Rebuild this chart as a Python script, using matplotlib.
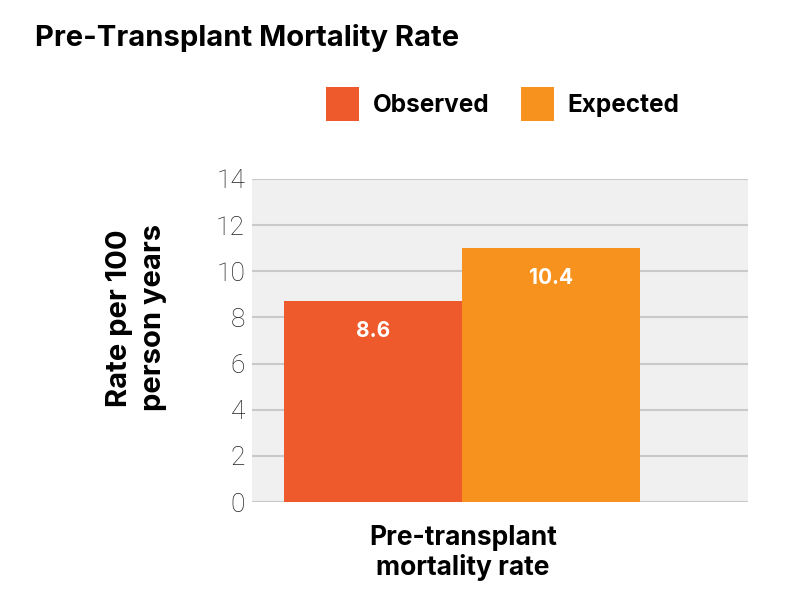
#!/usr/bin/env python3
"""Pre-transplant mortality rate: observed vs expected bar chart."""

import matplotlib.pyplot as plt
from matplotlib.patches import Patch

series_names = ["Observed", "Expected"]
bar_heights = [8.7, 11.0]          # bar tops as drawn in the picture
value_labels = ["8.6", "10.4"]     # printed values
category_label = "Pre-transplant\nmortality rate"
y_ticks = [0, 2, 4, 6, 8, 10, 12, 14]

colors = ["#EE5A2C", "#F7921E"]
bg_color = "#F0F0F1"
grid_color = "#C9C9CC"

BOLD = ["Inter", "DejaVu Sans"]
plt.rcParams["font.family"] = ["Roboto", "DejaVu Sans"]

fig = plt.figure(figsize=(8, 6), dpi=100)
ax = fig.add_axes([0.315, 0.1633, 0.62, 0.5384])
ax.set_facecolor(bg_color)

x = list(range(len(series_names)))
bars = ax.bar(x, bar_heights, width=1.0, color=colors, zorder=3)

for b, lab in zip(bars, value_labels):
    ax.annotate(lab, (b.get_x() + b.get_width() / 2, b.get_height()),
                xytext=(0, -14), textcoords="offset points",
                ha="center", va="top", color="white", family=BOLD,
                fontsize=15, fontweight="bold", zorder=4)

ax.set_xlim(-0.68, 2.11)
ax.set_ylim(0, 14)
ax.set_yticks(y_ticks)
ax.set_yticklabels([str(t) for t in y_ticks], fontsize=19,
                   fontweight="light", color="#222222")
ax.tick_params(axis="y", length=0, pad=5)
ax.set_xticks([])
ax.yaxis.grid(True, color=grid_color, linewidth=1.5, zorder=0)
for s in ax.spines.values():
    s.set_visible(False)

ax.set_xlabel(category_label, fontsize=19, fontweight="bold",
              family=BOLD, linespacing=1.15)
ax.xaxis.set_label_coords(0.425, -0.072)
ax.xaxis.label.set_va("top")
ax.set_ylabel("Rate per 100\nperson years", fontsize=21, fontweight="bold",
              family=BOLD, linespacing=1.3)
ax.yaxis.set_label_coords(-0.172, 0.57)

fig.text(0.044, 0.937, "Pre-Transplant Mortality Rate", fontsize=21,
         fontweight="bold", family=BOLD, ha="left", va="center")

handles = [Patch(facecolor=c, edgecolor="none") for c in colors]
fig.legend(handles, series_names, loc="center left",
           bbox_to_anchor=(0.38, 0.827), ncol=2, frameon=False,
           prop={"size": 17.5, "weight": "bold", "family": BOLD},
           handlelength=1.37, handleheight=1.75, handletextpad=0.55,
           columnspacing=1.3)

fig.savefig("out.png", dpi=100)
